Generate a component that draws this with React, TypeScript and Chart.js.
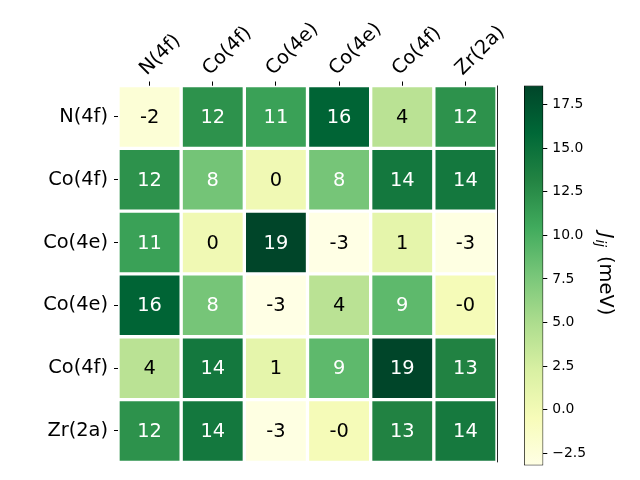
import React, { useEffect, useRef } from "react";
import { Chart, registerables } from "chart.js";

Chart.register(...registerables);

// ---- data ----
const rowLabels = ["N(4f)", "Co(4f)", "Co(4e)", "Co(4e)", "Co(4f)", "Zr(2a)"];
const colLabels = ["N(4f)", "Co(4f)", "Co(4e)", "Co(4e)", "Co(4f)", "Zr(2a)"];
const rowN4f = [-2.3, 12.2, 11.1, 16.2, 4.2, 12.2];
const rowCo4f = [12.2, 7.9, 0.2, 7.8, 14.3, 14.3];
const rowCo4e = [11.1, 0.2, 18.6, -3.2, 1.2, -3.0];
const rowCo4eB = [16.2, 7.8, -3.2, 4.2, 9.0, -0.3];
const rowCo4fB = [4.2, 14.3, 1.2, 9.0, 18.6, 13.3];
const rowZr2a = [12.2, 14.3, -3.0, -0.3, 13.3, 14.2];
const matrix = [rowN4f, rowCo4f, rowCo4e, rowCo4eB, rowCo4fB, rowZr2a];
const colorbarTicks = [-2.5, 0, 2.5, 5, 7.5, 10, 12.5, 15, 17.5];
const vMin = -3.2;
const vMax = 18.6;
const colorbarTitleMain = "J";
const colorbarTitleSub = "ij";
const colorbarTitleUnit = "(meV)";

// YlGn colormap stops
const ylgn = ["#ffffe5", "#f7fcb9", "#d9f0a3", "#addd8e", "#78c679", "#41ab5d", "#238443", "#006837", "#004529"];

const FONT = "DejaVu Sans";

function hexToRgb(h: string) {
  const n = parseInt(h.slice(1), 16);
  return [(n >> 16) & 255, (n >> 8) & 255, n & 255];
}

function cmap(v: number): string {
  let t = (v - vMin) / (vMax - vMin);
  t = Math.max(0, Math.min(1, t));
  const pos = t * (ylgn.length - 1);
  const i = Math.min(Math.floor(pos), ylgn.length - 2);
  const f = pos - i;
  const a = hexToRgb(ylgn[i]);
  const b = hexToRgb(ylgn[i + 1]);
  const c = a.map((x, k) => Math.round(x + (b[k] - x) * f));
  return `rgb(${c[0]},${c[1]},${c[2]})`;
}

const cellTextPlugin = {
  id: "cellText",
  afterDatasetsDraw(chart: any) {
    const ctx = chart.ctx;
    ctx.save();
    ctx.font = `19.4px "${FONT}"`;
    ctx.textAlign = "center";
    ctx.textBaseline = "middle";
    chart.data.datasets.forEach((ds: any, r: number) => {
      const meta = chart.getDatasetMeta(r);
      meta.data.forEach((el: any, c: number) => {
        const v = matrix[r][c];
        const p = el.getCenterPoint();
        ctx.fillStyle = v > (vMin + vMax) / 2 ? "#ffffff" : "#000000";
        ctx.fillText(v.toFixed(0), p.x, p.y + 1);
      });
    });
    // right spine
    const ca = chart.chartArea;
    ctx.strokeStyle = "rgba(0,0,0,0.85)";
    ctx.lineWidth = 1;
    ctx.beginPath();
    ctx.moveTo(Math.round(ca.right) + 0.5, ca.top);
    ctx.lineTo(Math.round(ca.right) + 0.5, ca.bottom);
    ctx.stroke();
    ctx.restore();
  },
};

const colorbarTitlePlugin = {
  id: "cbTitle",
  afterDraw(chart: any) {
    const ctx = chart.ctx;
    const ca = chart.chartArea;
    const mainFont = `italic 19.4px "${FONT}"`;
    const subFont = `italic 13.6px "${FONT}"`;
    const unitFont = `19.4px "${FONT}"`;
    const gap1 = 1;
    const gap2 = 9;
    ctx.save();
    ctx.font = mainFont;
    const w1 = ctx.measureText(colorbarTitleMain).width;
    ctx.font = subFont;
    const w2 = ctx.measureText(colorbarTitleSub).width;
    ctx.font = unitFont;
    const w3 = ctx.measureText(colorbarTitleUnit).width;
    const total = w1 + gap1 + w2 + gap2 + w3;
    const cy = 274;
    ctx.translate(600, cy);
    ctx.rotate(Math.PI / 2);
    ctx.fillStyle = "#000";
    ctx.textBaseline = "alphabetic";
    ctx.textAlign = "left";
    let x = -total / 2;
    ctx.font = mainFont;
    ctx.fillText(colorbarTitleMain, x, 0);
    x += w1 + gap1;
    ctx.font = subFont;
    ctx.fillText(colorbarTitleSub, x, 4);
    x += w2 + gap2;
    ctx.font = unitFont;
    ctx.fillText(colorbarTitleUnit, x, 0);
    ctx.restore();
  },
};

export default function App() {
  const heatRef = useRef<HTMLCanvasElement>(null);
  const cbRef = useRef<HTMLCanvasElement>(null);

  useEffect(() => {
    const heat = new Chart(heatRef.current as HTMLCanvasElement, {
      type: "bar",
      data: {
        labels: colLabels,
        datasets: matrix.map((vals, r) => ({
          label: rowLabels[r],
          data: colLabels.map(() => [r, r + 1]),
          backgroundColor: vals.map((v) => cmap(v)),
          borderColor: "#ffffff",
          borderWidth: 2,
          borderSkipped: false,
          barPercentage: 1,
          categoryPercentage: 1,
        })),
      } as any,
      options: {
        animation: false,
        responsive: false,
        events: [],
        layout: { padding: { left: 0, top: 0, right: 143, bottom: 15.5 } },
        plugins: { legend: { display: false }, tooltip: { enabled: false } },
        scales: {
          x: {
            type: "category",
            position: "top",
            stacked: true,
            offset: true,
            grid: { offset: false, drawOnChartArea: false, drawTicks: true, tickLength: 4, color: "#000", lineWidth: 1 },
            border: { display: false },
            ticks: {
              minRotation: 45,
              maxRotation: 45,
              autoSkip: false,
              padding: 1,
              labelOffset: 10,
              color: "#000",
              font: { family: FONT, size: 19.4 },
            },
            afterFit: (s: any) => {
              s.height = 85.5;
            },
          },
          y: {
            type: "linear",
            position: "left",
            min: 0,
            max: 6,
            reverse: true,
            grid: { drawOnChartArea: false, drawTicks: true, tickLength: 4, color: "#000", lineWidth: 1 },
            border: { display: false },
            afterBuildTicks: (s: any) => {
              s.ticks = rowLabels.map((_, i) => ({ value: i + 0.5 }));
            },
            ticks: {
              autoSkip: false,
              padding: 6,
              color: "#000",
              font: { family: FONT, size: 19.4 },
              callback: (v: any) => rowLabels[Math.floor(Number(v))],
            },
            afterFit: (s: any) => {
              s.width = 118;
            },
          },
        },
      } as any,
      plugins: [cellTextPlugin],
    });

    const cb = new Chart(cbRef.current as HTMLCanvasElement, {
      type: "bar",
      data: {
        labels: [""],
        datasets: [
          {
            data: [[vMin, vMax]],
            backgroundColor: (c: any) => {
              const chart = c.chart;
              if (!chart.chartArea || !chart.scales.y) return "transparent";
              const ys = chart.scales.y;
              const g = chart.ctx.createLinearGradient(0, ys.getPixelForValue(vMin), 0, ys.getPixelForValue(vMax));
              ylgn.forEach((col, i) => g.addColorStop(i / (ylgn.length - 1), col));
              return g;
            },
            borderColor: "#000",
            borderWidth: 1,
            borderSkipped: false,
            barPercentage: 1,
            categoryPercentage: 1,
          },
        ],
      } as any,
      options: {
        animation: false,
        responsive: false,
        events: [],
        layout: { padding: { left: 524, top: 85.5, bottom: 14.5, right: 0 } },
        plugins: { legend: { display: false }, tooltip: { enabled: false } },
        scales: {
          x: { display: false },
          y: {
            type: "linear",
            position: "right",
            min: vMin,
            max: vMax,
            grid: { drawOnChartArea: false, drawTicks: true, tickLength: 4, color: "#000", lineWidth: 1 },
            border: { display: false },
            afterBuildTicks: (s: any) => {
              s.ticks = colorbarTicks.map((v) => ({ value: v }));
            },
            ticks: {
              autoSkip: false,
              padding: 5,
              color: "#000",
              font: { family: FONT, size: 13.9 },
              callback: (v: any) => Number(v).toFixed(1).replace("-", "\u2212"),
            },
            afterFit: (s: any) => {
              s.width = 96.7;
            },
          },
        },
      } as any,
      plugins: [colorbarTitlePlugin],
    });

    return () => {
      heat.destroy();
      cb.destroy();
    };
  }, []);

  return (
    <div style={{ position: "fixed", left: 0, top: 0, width: 640, height: 480, background: "#fff" }}>
      <canvas ref={heatRef} width={640} height={480} style={{ position: "absolute", left: 0, top: 0, width: 640, height: 480 }} />
      <canvas ref={cbRef} width={640} height={480} style={{ position: "absolute", left: 0, top: 0, width: 640, height: 480 }} />
    </div>
  );
}
